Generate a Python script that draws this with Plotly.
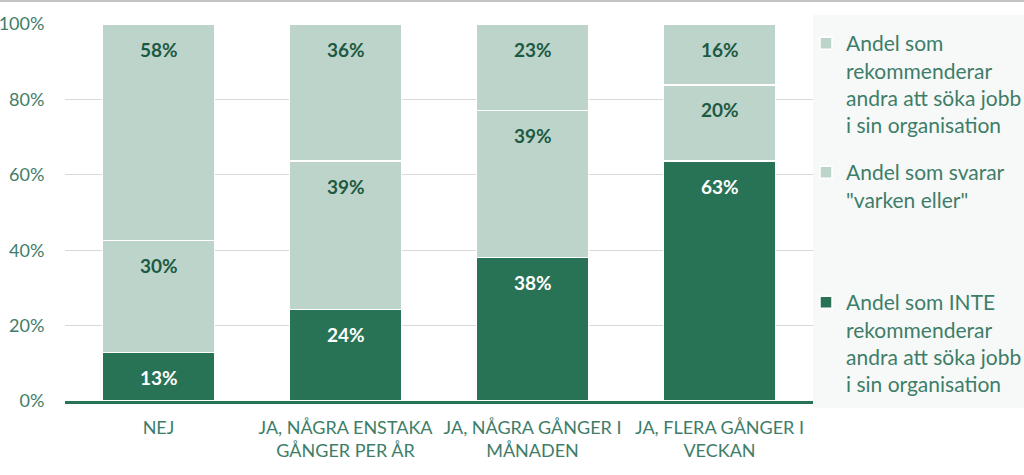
import plotly.graph_objects as go

categories = ["NEJ", "JA, NÅGRA ENSTAKA<br>GÅNGER PER ÅR", "JA, NÅGRA GÅNGER I<br>MÅNADEN", "JA, FLERA GÅNGER I<br>VECKAN"]
inte = [13, 24, 38, 63]
varken = [30, 39, 39, 20]
rekommenderar = [58, 36, 23, 16]
series_names = [
    "Andel som INTE<br>rekommenderar<br>andra att söka jobb<br>i sin organisation",
    "Andel som svarar<br>\"varken eller\"",
    "Andel som<br>rekommenderar<br>andra att söka jobb<br>i sin organisation",
]
y_ticks = [0, 20, 40, 60, 80, 100]
y_ticktext = ["0%", "20%", "40%", "60%", "80%", "100%"]

DARK = "#287255"
LIGHT = "#bdd4cb"
TEXT = "#3e7d68"
LABEL_DARK = "#1c5a42"
FONT = "Lato"

fig = go.Figure()
series = [inte, varken, rekommenderar]
colors = [DARK, LIGHT, LIGHT]
legends = ["legend3", "legend2", "legend"]
for vals, name, col, lg in zip(series, series_names, colors, legends):
    fig.add_trace(go.Bar(
        x=categories, y=vals, name=name, legend=lg,
        marker=dict(color=col, line=dict(color="white", width=1.5)),
        width=0.6, hoverinfo="skip",
    ))

# data labels near the top of each (normalised) segment
annotations = []
for i, cat in enumerate(categories):
    total = sum(s[i] for s in series)
    base = 0.0
    for vals, col in zip(series, ["white", LABEL_DARK, LABEL_DARK]):
        top = base + vals[i] * 100.0 / total
        annotations.append(dict(
            x=cat, y=top, xref="x", yref="y", text=f"{vals[i]}%",
            showarrow=False, yshift=-25, yanchor="middle",
            font=dict(family=FONT, size=19, color=col, weight="bold"),
        ))
        base = top

legend_common = dict(
    xref="container", yref="container", xanchor="left", yanchor="top",
    bgcolor="rgba(0,0,0,0)", valign="top",
    font=dict(family=FONT, size=21, color=TEXT), itemclick=False,
)

fig.update_layout(
    width=1024, height=475,
    margin=dict(l=65, r=211, t=24, b=74, autoexpand=False),
    paper_bgcolor="white", plot_bgcolor="white",
    barmode="stack", barnorm="percent", bargap=0.4,
    font=dict(family=FONT, color=TEXT),
    annotations=annotations,
    showlegend=True,
    legend=dict(x=806/1024, y=1 - 23/475, **legend_common),
    legend2=dict(x=806/1024, y=1 - 152/475, **legend_common),
    legend3=dict(x=806/1024, y=1 - 282/475, **legend_common),
    xaxis=dict(
        showline=True, linecolor=DARK, linewidth=3,
        tickfont=dict(family=FONT, size=18, color=TEXT),
        showgrid=False, ticks="outside", ticklen=8, tickcolor="rgba(0,0,0,0)",
        fixedrange=True,
    ),
    yaxis=dict(
        range=[0, 100], tickvals=y_ticks, ticktext=y_ticktext,
        showgrid=True, gridcolor="#d9d9d9", gridwidth=1,
        zeroline=False, showline=False,
        ticks="outside", ticklen=16, tickcolor="rgba(0,0,0,0)",
        tickfont=dict(family=FONT, size=18, color=TEXT),
        fixedrange=True,
    ),
    shapes=[
        dict(type="rect", xref="paper", yref="paper",
             x0=1.0, x1=(1024 - 65) / 748, y0=-7 / 377, y1=386 / 377,
             fillcolor="#f7f9f8", line=dict(width=0), layer="below"),
        dict(type="line", xref="paper", yref="paper",
             x0=-65 / 748, x1=(1024 - 65) / 748, y0=400 / 377, y1=400 / 377,
             line=dict(color="#c4c4c4", width=2)),
    ],
)

fig.write_html("out.html")
